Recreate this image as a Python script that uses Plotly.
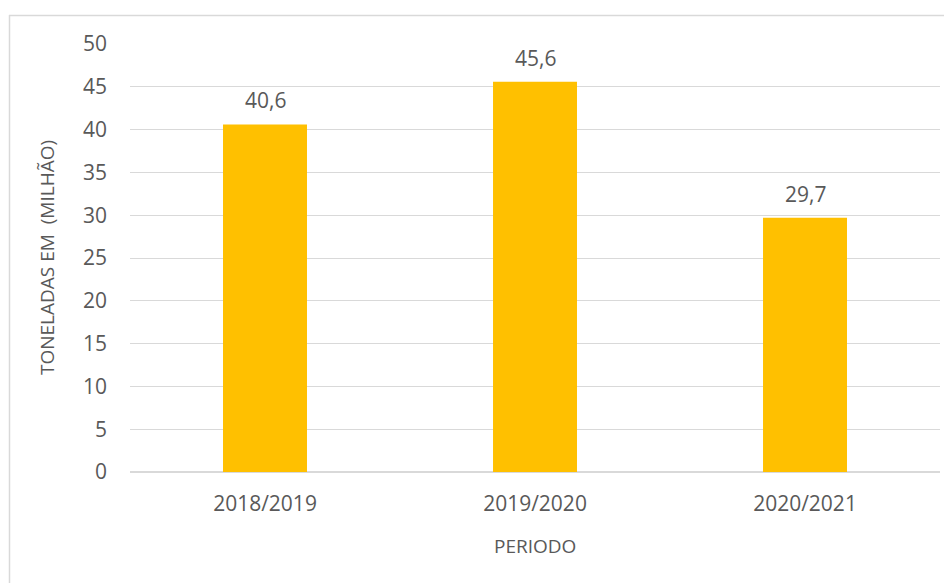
import plotly.graph_objects as go

periods = ["2018/2019", "2019/2020", "2020/2021"]
values = [40.6, 45.6, 29.7]
labels = ["40,6", "45,6", "29,7"]
y_ticks = [0, 5, 10, 15, 20, 25, 30, 35, 40, 45, 50]

OFF = 8  # page body margin offset
W, H = 952, 583
L, T = 130 - OFF, 44 - OFF
pw, ph = 810, 428
R = W - L - pw
B = H - T - ph

def px_x(x):
    return (x - OFF - L) / pw

def px_y(y):
    return (T + ph - (y - OFF)) / ph

txt = "#595959"
font = dict(family="Open Sans, Liberation Sans, sans-serif", size=21, color=txt)
title_font = dict(family="Open Sans, Liberation Sans, sans-serif", size=19, color=txt)

fig = go.Figure()
fig.add_trace(go.Bar(x=periods, y=values, marker=dict(color="#FFC000", line=dict(width=0)),
                     hoverinfo="skip"))

annotations = []
for p, v, lab in zip(periods, values, labels):
    annotations.append(dict(x=p, y=v, text=lab, showarrow=False, yshift=24,
                            xref="x", yref="y", font=font))
annotations.append(dict(x=px_x(47), y=0.5, xref="paper", yref="paper", text="TONELADAS EM  (MILHÃO)",
                        textangle=-90, showarrow=False, font=title_font, xanchor="center", yanchor="middle"))
annotations.append(dict(x=0.5, y=px_y(546), xref="paper", yref="paper", text="PERIODO",
                        showarrow=False, font=title_font, xanchor="center", yanchor="middle"))

shapes = [
    dict(type="line", xref="paper", yref="paper", x0=px_x(9.5), x1=px_x(9.5), y0=px_y(600), y1=px_y(15),
         line=dict(color="#D9D9D9", width=1.5)),
    dict(type="line", xref="paper", yref="paper", x0=px_x(9), x1=px_x(970), y0=px_y(15.5), y1=px_y(15.5),
         line=dict(color="#D9D9D9", width=1.5)),
]

fig.update_layout(
    width=W, height=H,
    margin=dict(l=L, r=R, t=T, b=B, pad=0),
    paper_bgcolor="white", plot_bgcolor="white",
    showlegend=False,
    bargap=0.689,
    font=font,
    annotations=annotations,
    shapes=shapes,
    xaxis=dict(showgrid=False, showline=False, zeroline=False, ticks="",
               tickfont=font, ticklabelstandoff=17),
    yaxis=dict(range=[0, 50], tickvals=y_ticks, showgrid=True, gridcolor="#D9D9D9", gridwidth=1.2,
               zeroline=True, zerolinecolor="#D9D9D9", zerolinewidth=1.5, showline=False, ticks="",
               tickfont=font, ticklabelstandoff=22),
)

fig.write_html("out.html")
